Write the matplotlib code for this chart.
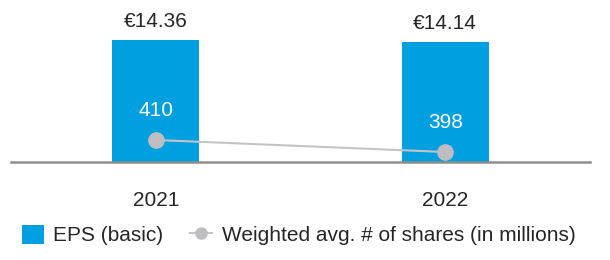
import matplotlib
matplotlib.use("Agg")
import matplotlib.pyplot as plt
from matplotlib.patches import Patch
from matplotlib.lines import Line2D

# data
years = ["2021", "2022"]
eps = [14.36, 14.14]
eps_labels = ["€14.36", "€14.14"]
shares = [410, 398]

BLUE = "#009FDF"
DOT = "#BEBEC2"
LINE = "#C4C4C6"
AXIS = "#8E8E8E"
TXT = "#262626"

plt.rcParams["font.family"] = ["Liberation Sans", "DejaVu Sans"]
FS = 15

fig = plt.figure(figsize=(6.1, 2.6), dpi=100)
W, H = 610, 260
# axes spans x 11..590 px, y baseline at 162 px from top up to the top edge
ax = fig.add_axes([11 / W, (H - 162) / H, (590 - 11) / W, 162 / H])
x = list(range(len(years)))

ax.bar(x, eps, width=0.30, color=BLUE, zorder=2)
ax.set_xlim(-0.5, 1.5)
ax.set_ylim(0, 162 / 8.5)

for xi, v, lbl in zip(x, eps, eps_labels):
    ax.annotate(lbl, xy=(xi, v), xytext=(0, 13.5), textcoords="offset points",
                ha="center", va="center", fontsize=FS, color=TXT)

ax2 = ax.twinx()
ax2.set_ylim(388, 388 + 162)
ax2.plot(x, shares, color=LINE, lw=1.5, marker="o", markersize=11,
         markerfacecolor=DOT, markeredgecolor=DOT, zorder=3)
for xi, v in zip(x, shares):
    ax2.annotate(str(v), xy=(xi, v), xytext=(0, 21.5), textcoords="offset points",
                 ha="center", va="center", fontsize=FS, color="white")

for a in (ax, ax2):
    for s in ("top", "right", "left"):
        a.spines[s].set_visible(False)
    a.set_yticks([])
ax2.spines["bottom"].set_visible(False)
ax.spines["bottom"].set_color(AXIS)
ax.spines["bottom"].set_linewidth(1.8)
ax.spines["bottom"].set_zorder(4)

ax.set_xticks(x)
ax.set_xticklabels(years, fontsize=FS, color=TXT)
ax.tick_params(axis="x", length=0, pad=21)

handles = [
    Patch(facecolor=BLUE, edgecolor="none"),
    Line2D([], [], color=LINE, lw=1.5, marker="o", markersize=8,
           markerfacecolor=DOT, markeredgecolor=DOT),
]
fig.legend(handles, ["EPS (basic)", "Weighted avg. # of shares (in millions)"],
           loc="center left", bbox_to_anchor=(22 / W, (H - 235) / H),
           ncol=2, frameon=False, fontsize=FS, borderpad=0, borderaxespad=0,
           handlelength=1.05, handleheight=1.05, handletextpad=0.45,
           columnspacing=1.3, labelcolor=TXT, numpoints=1)

fig.savefig("out.png", dpi=100, facecolor="white")
